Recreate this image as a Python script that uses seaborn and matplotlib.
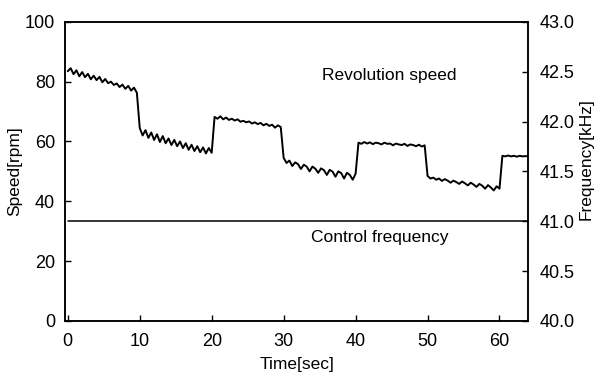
import numpy as np
import pandas as pd
import matplotlib
matplotlib.use("Agg")
import matplotlib.pyplot as plt
import seaborn as sns

# ---- data ----
seg1 = [83.5, 84.5, 82.5, 83.8, 81.8, 83.2, 81.5, 82.6, 80.8, 82.0, 80.5, 81.6, 79.8,
        80.9, 79.5, 80.0, 78.9, 79.4, 78.2, 79.0, 77.6, 78.6, 77.0, 78.0, 76.3]
seg2 = [64.5, 62.0, 63.8, 61.2, 63.0, 60.5, 62.4, 59.8, 61.8, 59.4, 61.0, 58.8, 60.5,
        58.4, 60.0, 57.8, 59.4, 57.2, 58.9, 56.8, 58.4, 56.4, 58.0, 56.0, 57.8, 56.2]
seg3 = [68.2, 67.6, 68.4, 67.4, 68.0, 67.2, 67.6, 67.0, 67.4, 66.6, 66.9, 66.4,
        66.7, 66.0, 66.4, 65.8, 66.2, 65.4, 65.9, 65.2, 65.6, 64.6, 65.4, 64.8]
seg4 = [54.5, 52.8, 53.6, 51.8, 53.0, 52.4, 50.8, 52.2, 51.6, 50.0, 51.6, 50.9, 49.5,
        51.0, 50.4, 48.8, 50.5, 49.9, 48.2, 50.0, 49.4, 47.6, 49.5, 48.8, 47.2, 49.2]
seg5 = [59.6, 59.2, 59.8, 59.3, 59.7, 59.1, 59.6, 59.4, 59.0, 59.6, 59.2, 59.3,
        58.7, 59.3, 59.0, 58.8, 59.2, 58.5, 59.0, 58.8, 58.4, 58.9, 58.3, 58.7]
seg6 = [48.5, 47.6, 47.9, 47.2, 47.6, 46.8, 47.4, 46.9, 46.2, 46.9, 46.4, 45.8, 46.6,
        46.0, 45.3, 46.2, 45.6, 44.8, 45.8, 45.2, 44.2, 45.4, 44.6, 43.6, 45.0, 44.2]
seg7 = [55.2, 55.0, 55.3, 55.0, 55.2, 54.9, 55.2, 55.0, 55.1, 55.0]
speed = seg1 + seg2 + seg3 + seg4 + seg5 + seg6 + seg7
sample_step = 0.4
time = [round(i * sample_step, 1) for i in range(len(speed))]

control_time = [0.0, 64.0]
control_freq = [41.0, 41.0]

x_ticks = [0, 10, 20, 30, 40, 50, 60]
speed_ticks = [0, 20, 40, 60, 80, 100]
freq_ticks = [40.0, 40.5, 41.0, 41.5, 42.0, 42.5, 43.0]

df_speed = pd.DataFrame({"Time": time, "Speed": speed})
df_ctrl = pd.DataFrame({"Time": control_time, "Freq": control_freq})

# ---- style ----
sns.set_style("ticks")
plt.rcParams["font.family"] = ["Liberation Sans", "DejaVu Sans"]
plt.rcParams["xtick.direction"] = "in"
plt.rcParams["ytick.direction"] = "in"
plt.rcParams["text.color"] = "black"
plt.rcParams["axes.labelcolor"] = "black"

fig = plt.figure(figsize=(6.01, 3.77), dpi=100)
ax = fig.add_axes([0.108, 0.149, 0.771, 0.793])

sns.lineplot(data=df_speed, x="Time", y="Speed", ax=ax, color="black", linewidth=1.4)
ax.set_xlim(-0.4, 64)
ax.set_ylim(0, 100)
ax.set_xticks(x_ticks)
ax.set_yticks(speed_ticks)
ax.set_xlabel("Time[sec]", fontsize=12.5, labelpad=5)
ax.set_ylabel("Speed[rpm]", fontsize=12.5, labelpad=2)
ax.tick_params(labelsize=13, length=4, width=1, colors="black", labelcolor="black")
ax.tick_params(axis="y", pad=7)
ax.tick_params(axis="x", pad=9)

ax2 = ax.twinx()
sns.lineplot(data=df_ctrl, x="Time", y="Freq", ax=ax2, color="black", linewidth=1.1)
ax2.set_ylim(40.0, 43.0)
ax2.set_yticks(freq_ticks)
ax2.set_yticklabels([f"{v:.1f}" for v in freq_ticks])
ax2.set_ylabel("Frequency[kHz]", fontsize=12.5, labelpad=8)
ax2.yaxis.set_label_coords(1.108, 0.54)
ax2.tick_params(labelsize=13, length=4, width=1, colors="black", labelcolor="black", pad=8)

for a in (ax, ax2):
    for s in a.spines.values():
        s.set_visible(True)
        s.set_linewidth(1.1)
        s.set_color("black")

ax.text(44.7, 82, "Revolution speed", fontsize=12.5, ha="center", va="center")
ax.text(43.3, 28, "Control frequency", fontsize=12.5, ha="center", va="center")

fig.savefig("out.png", dpi=100)
